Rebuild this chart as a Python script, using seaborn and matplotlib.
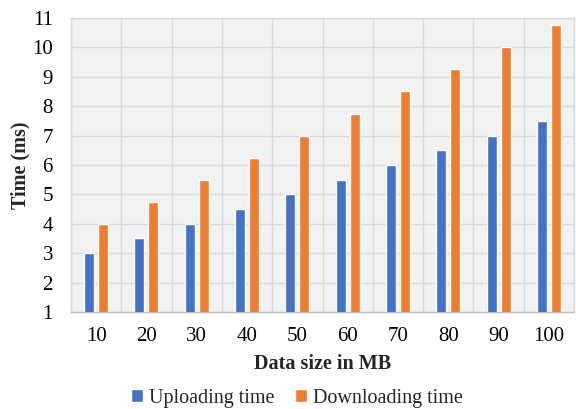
import matplotlib
matplotlib.use("Agg")
import matplotlib.pyplot as plt
import seaborn as sns
import pandas as pd
import numpy as np
from matplotlib.ticker import FixedLocator

sizes = ["10", "20", "30", "40", "50", "60", "70", "80", "90", "100"]
uploading = [3, 3.5, 4, 4.5, 5, 5.5, 6, 6.5, 7, 7.5]
downloading = [4, 4.75, 5.5, 6.25, 7, 7.75, 8.5, 9.25, 10, 10.75]
series = ["Uploading time", "Downloading time"]

df = pd.DataFrame({
    "size": sizes * 2,
    "time": uploading + downloading,
    "series": [series[0]] * len(sizes) + [series[1]] * len(sizes),
})

sns.set_theme(style="white")
plt.rcParams["font.family"] = ["Liberation Serif", "DejaVu Serif"]

fig = plt.figure(figsize=(5.76, 4.09), dpi=100)
ax = fig.add_axes([71/576, 1 - 312/409, (574-71)/576, (312-18)/409])

sns.barplot(data=df, x="size", y="time", hue="series", order=sizes,
            hue_order=series, palette=["#4472C4", "#ED7D31"],
            width=0.56, gap=0.29, ax=ax, saturation=1, zorder=3)

ax.set_facecolor("#f2f2f2")
ax.set_ylim(1, 11)
ax.set_xlim(-0.5, len(sizes) - 0.5)
ax.set_yticks(range(1, 12))
ax.xaxis.set_minor_locator(FixedLocator(np.arange(-0.5, len(sizes), 1.0)))
ax.grid(axis="y", which="major", color="#d9d9d9", linewidth=1.0, zorder=0)
ax.grid(axis="x", which="minor", color="#d9d9d9", linewidth=1.0, zorder=0)
ax.set_axisbelow(True)
for s in ax.spines.values():
    s.set_visible(True)
    s.set_color("#d9d9d9")
    s.set_linewidth(1.0)
ax.spines["bottom"].set_color("#bfbfbf")
ax.tick_params(axis="both", which="both", length=0, labelsize=15, colors="#000000")
ax.tick_params(axis="x", pad=11)
ax.tick_params(axis="y", pad=13)

ax.set_xlabel("Data size in MB", fontsize=14.5, fontweight="bold")
ax.xaxis.set_label_coords(0.5, -(354 - 312) / 294)
ax.set_ylabel("Time (ms)", fontsize=14.5, fontweight="bold")
ax.yaxis.set_label_coords(-(71 - 30) / 503, 0.5)

ax.legend(loc="center", bbox_to_anchor=(297/576, 1 - 398/409), bbox_transform=fig.transFigure,
          ncol=2, frameon=False,
          fontsize=14.5, handlelength=0.6, handleheight=0.6, handletextpad=0.3,
          columnspacing=1.0)

fig.savefig("out.png", dpi=100)
